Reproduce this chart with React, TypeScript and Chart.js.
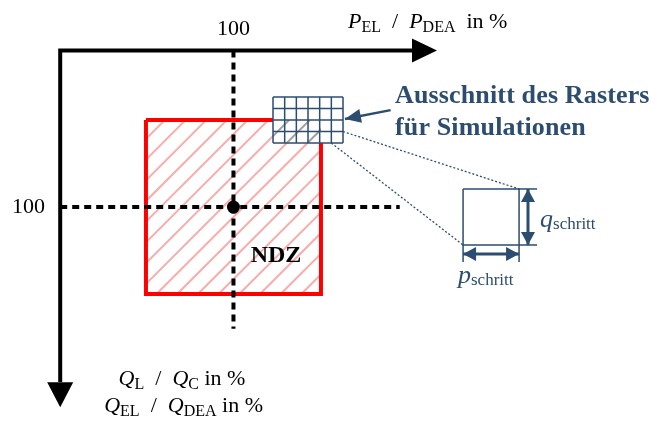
import React, { useEffect, useRef } from "react";
import { Chart, registerables } from "chart.js";
Chart.register(...registerables);

// ---- value ranges (P and Q in %) ----
const xRange = [-33.4, 340.3];
const yRange = [-19, 224.1];

// NDZ region and operating point
const ndzP = [50, 150];
const ndzQ = [50, 150];
const centre = [100, 100];

// axes: origin, shaft end, arrow tip
const axisOrigin = [1, 10];
const axisPEnd = [202, 216.3];
const axisQEnd = [200.5, 215];

// dashed reference lines at 100 %
const dashP = [1, 195];
const dashQ = [10, 170];

// simulation raster excerpt
const gridP = [122.6, 162.6];
const gridQ = [36.75, 63.2];
const gridCols = 6;
const gridRows = 4;

// enlarged raster cell
const cellP = [231.2, 263.2];
const cellQ = [89.6, 121.8];
const qDimP = [268.3, 273.5];
const pDimQ = [127, 131.6];

// pointer arrow from caption to raster
const pointerFrom = [189.8, 44.3];
const pointerTo = [163.7, 49.4];

// tick labels
const tickLabels = ["100", "100"];
const captionLines = ["Ausschnitt des Rasters", "für Simulationen"];
const ndzLabel = "NDZ";

const BLUE = "#2c4d6f";
const RED = "#ff0000";
const FONT = '"Liberation Serif", "Times New Roman", serif';
const SEP = "\u2002/\u2002";

type Run = { t: string; size: number; italic?: boolean; bold?: boolean; dy?: number };

function fontOf(r: Run) {
  return `${r.italic ? "italic " : ""}${r.bold ? "bold " : ""}${r.size}px ${FONT}`;
}

function drawRuns(ctx: CanvasRenderingContext2D, runs: Run[], x: number, y: number, align: "left" | "center" | "right", color: string, spacing = 0) {
  (ctx as any).letterSpacing = `${spacing}px`;
  let w = 0;
  for (const r of runs) {
    ctx.font = fontOf(r);
    w += ctx.measureText(r.t).width;
  }
  let cx = align === "center" ? x - w / 2 : align === "right" ? x - w : x;
  ctx.fillStyle = color;
  ctx.textAlign = "left";
  ctx.textBaseline = "alphabetic";
  for (const r of runs) {
    ctx.font = fontOf(r);
    ctx.fillText(r.t, cx, y + (r.dy || 0));
    cx += ctx.measureText(r.t).width;
  }
  (ctx as any).letterSpacing = "0px";
}

function head(ctx: CanvasRenderingContext2D, tx: number, ty: number, fx: number, fy: number, len: number, half: number, color: string) {
  const a = Math.atan2(ty - fy, tx - fx);
  const bx = tx - len * Math.cos(a);
  const by = ty - len * Math.sin(a);
  ctx.fillStyle = color;
  ctx.beginPath();
  ctx.moveTo(tx, ty);
  ctx.lineTo(bx + half * Math.sin(a), by - half * Math.cos(a));
  ctx.lineTo(bx - half * Math.sin(a), by + half * Math.cos(a));
  ctx.closePath();
  ctx.fill();
}

function hatch(ctx: CanvasRenderingContext2D, l: number, t: number, r: number, b: number, color: string) {
  ctx.save();
  ctx.beginPath();
  ctx.rect(l, t, r - l, b - t);
  ctx.clip();
  ctx.strokeStyle = color;
  ctx.lineWidth = 2;
  const step = 20.7;
  const phase = 347;
  let c0 = phase - Math.ceil((phase - (l + t)) / step) * step;
  for (let c = c0; c <= r + b + step; c += step) {
    ctx.beginPath();
    ctx.moveTo(c - b, b);
    ctx.lineTo(c - t, t);
    ctx.stroke();
  }
  ctx.restore();
}

function seg(label: string, pts: number[][], color: string, width: number, order: number, dash: number[] = [], extra: any = {}) {
  return {
    label,
    data: pts.map((p) => ({ x: p[0], y: p[1] })),
    showLine: true,
    borderColor: color,
    borderWidth: width,
    borderDash: dash,
    pointRadius: 0,
    tension: 0,
    order,
    ...extra,
  };
}

export default function App() {
  const ref = useRef<HTMLCanvasElement | null>(null);

  useEffect(() => {
    if (!ref.current) return;
    const cw = (gridP[1] - gridP[0]) / gridCols;
    const ch = (gridQ[1] - gridQ[0]) / gridRows;

    const datasets: any[] = [];
    datasets.push(
      seg("ndz", [[ndzP[0], ndzQ[0]], [ndzP[1], ndzQ[0]], [ndzP[1], ndzQ[1]], [ndzP[0], ndzQ[1]], [ndzP[0], ndzQ[0]]], RED, 4, 40, [], { borderJoinStyle: "miter" })
    );
    for (let i = 0; i <= gridCols; i++) {
      const p = gridP[0] + i * cw;
      datasets.push(seg("grid", [[p, gridQ[0]], [p, gridQ[1]]], BLUE, 1.5, 30));
    }
    for (let j = 0; j <= gridRows; j++) {
      const q = gridQ[0] + j * ch;
      datasets.push(seg("grid", [[gridP[0], q], [gridP[1], q]], BLUE, 1.5, 30));
    }
    datasets.push(seg("dashV", [[centre[0], dashQ[0]], [centre[0], dashQ[1]]], "#000", 4, 20, [7, 5]));
    datasets.push(seg("dashH", [[dashP[0], centre[1]], [dashP[1], centre[1]]], "#000", 4, 20, [7, 5]));
    datasets.push({
      label: "centre",
      data: [{ x: centre[0], y: centre[1] }],
      pointRadius: 6.5,
      pointBackgroundColor: "#000",
      pointBorderWidth: 0,
      showLine: false,
      order: 15,
    });
    datasets.push(
      seg("axes", [[axisPEnd[0], axisOrigin[1]], [axisOrigin[0], axisOrigin[1]], [axisOrigin[0], axisQEnd[0]]], "#000", 4, 10, [], { borderJoinStyle: "miter", borderCapStyle: "butt" })
    );
    datasets.push(seg("conn", [[gridP[1], gridQ[1] - ch], [cellP[1], cellQ[0]]], BLUE, 1.3, 8, [2, 2]));
    datasets.push(seg("conn", [[gridP[1] - cw, gridQ[1]], [cellP[0], cellQ[1]]], BLUE, 1.3, 8, [2, 2]));
    datasets.push(
      seg("cell", [[cellP[0], cellQ[0]], [cellP[1], cellQ[0]], [cellP[1], cellQ[1]], [cellP[0], cellQ[1]], [cellP[0], cellQ[0]]], BLUE, 1.5, 6)
    );
    datasets.push(seg("ext", [[cellP[1], cellQ[0]], [qDimP[1], cellQ[0]]], BLUE, 1.5, 5));
    datasets.push(seg("ext", [[cellP[1], cellQ[1]], [qDimP[1], cellQ[1]]], BLUE, 1.5, 5));
    datasets.push(seg("ext", [[cellP[0], cellQ[1]], [cellP[0], pDimQ[1]]], BLUE, 1.5, 5));
    datasets.push(seg("ext", [[cellP[1], cellQ[1]], [cellP[1], pDimQ[1]]], BLUE, 1.5, 5));
    datasets.push(seg("dim", [[qDimP[0], cellQ[0]], [qDimP[0], cellQ[1]]], BLUE, 3, 4));
    datasets.push(seg("dim", [[cellP[0], pDimQ[0]], [cellP[1], pDimQ[0]]], BLUE, 3, 4));
    datasets.push(seg("pointer", [pointerFrom, pointerTo], BLUE, 2.5, 4));

    const plugin = {
      id: "diagram",
      beforeDatasetsDraw(chart: any) {
        const { ctx, scales } = chart;
        const X = (v: number) => scales.x.getPixelForValue(v);
        const Y = (v: number) => scales.y.getPixelForValue(v);
        hatch(ctx, X(ndzP[0]), Y(ndzQ[0]), X(ndzP[1]), Y(ndzQ[1]), "rgba(245, 90, 90, 0.5)");
      },
      afterDatasetDraw(chart: any, args: any) {
        const ds = chart.data.datasets[args.index];
        if (ds.label !== "ndz") return;
        const { ctx, scales } = chart;
        const X = (v: number) => scales.x.getPixelForValue(v);
        const Y = (v: number) => scales.y.getPixelForValue(v);
        ctx.save();
        ctx.fillStyle = "#fff";
        ctx.fillRect(X(gridP[0]), Y(gridQ[0]), X(gridP[1]) - X(gridP[0]), Y(gridQ[1]) - Y(gridQ[0]));
        ctx.restore();
        hatch(ctx, X(gridP[0]), Math.max(Y(gridQ[0]), Y(ndzQ[0])), Math.min(X(gridP[1]), X(ndzP[1])), Y(gridQ[1]), "rgba(120,120,120,0.7)");
      },
      afterDatasetsDraw(chart: any) {
        const { ctx, scales } = chart;
        const X = (v: number) => scales.x.getPixelForValue(v);
        const Y = (v: number) => scales.y.getPixelForValue(v);
        ctx.save();
        head(ctx, X(axisPEnd[1]), Y(axisOrigin[1]), X(axisOrigin[0]), Y(axisOrigin[1]), 25, 12, "#000");
        head(ctx, X(axisOrigin[0]), Y(axisQEnd[1]), X(axisOrigin[0]), Y(axisOrigin[1]), 25, 13, "#000");
        head(ctx, X(qDimP[0]), Y(cellQ[0]), X(qDimP[0]), Y(cellQ[1]), 13, 7, BLUE);
        head(ctx, X(qDimP[0]), Y(cellQ[1]), X(qDimP[0]), Y(cellQ[0]), 13, 7, BLUE);
        head(ctx, X(cellP[0]), Y(pDimQ[0]), X(cellP[1]), Y(pDimQ[0]), 13, 7, BLUE);
        head(ctx, X(cellP[1]), Y(pDimQ[0]), X(cellP[0]), Y(pDimQ[0]), 13, 7, BLUE);
        head(ctx, X(pointerTo[0]), Y(pointerTo[1]), X(pointerFrom[0]), Y(pointerFrom[1]), 16, 7, BLUE);

        drawRuns(ctx, [{ t: tickLabels[0], size: 22 }], X(100), Y(1.1), "center", "#000");
        drawRuns(ctx, [{ t: tickLabels[1], size: 22 }], X(-7.7), Y(103.4), "right", "#000");
        drawRuns(
          ctx,
          [
            { t: "P", size: 22, italic: true },
            { t: "EL", size: 16, dy: 4 },
            { t: SEP, size: 22 },
            { t: "P", size: 22, italic: true },
            { t: "DEA", size: 16, dy: 4 },
            { t: "\u2002in %", size: 22 },
          ],
          X(165.5),
          Y(-2.9),
          "left",
          "#000"
        );
        drawRuns(
          ctx,
          [
            { t: "Q", size: 22, italic: true },
            { t: "L", size: 16, dy: 4 },
            { t: SEP, size: 22 },
            { t: "Q", size: 22, italic: true },
            { t: "C", size: 16, dy: 4 },
            { t: " in %", size: 22 },
          ],
          X(70.6),
          Y(202.3),
          "center",
          "#000"
        );
        drawRuns(
          ctx,
          [
            { t: "Q", size: 22, italic: true },
            { t: "EL", size: 16, dy: 4 },
            { t: SEP, size: 22 },
            { t: "Q", size: 22, italic: true },
            { t: "DEA", size: 16, dy: 4 },
            { t: " in %", size: 22 },
          ],
          X(71.5),
          Y(217.8),
          "center",
          "#000"
        );
        drawRuns(ctx, [{ t: ndzLabel, size: 24, bold: true }], X(124.3), Y(131.6), "center", "#000");
        drawRuns(ctx, [{ t: captionLines[0], size: 26, bold: true }], X(192.3), Y(40.2), "left", BLUE, 0.15);
        drawRuns(ctx, [{ t: captionLines[1], size: 26, bold: true }], X(192.3), Y(58.6), "left", BLUE, 0.15);
        drawRuns(ctx, [{ t: "q", size: 26, italic: true }, { t: "schritt", size: 17, dy: 2 }], X(275.2), Y(111.5), "left", BLUE);
        drawRuns(ctx, [{ t: "p", size: 26, italic: true }, { t: "schritt", size: 17, dy: 2 }], X(228.3), Y(143.6), "left", BLUE);
        ctx.restore();
      },
    };

    const chart = new Chart(ref.current, {
      type: "scatter",
      data: { datasets },
      options: {
        animation: false,
        responsive: false,
        devicePixelRatio: 1,
        layout: { padding: 0, autoPadding: false },
        plugins: { legend: { display: false }, tooltip: { enabled: false } },
        events: [],
        scales: {
          x: { type: "linear", display: false, min: xRange[0], max: xRange[1] },
          y: { type: "linear", display: false, min: yRange[0], max: yRange[1], reverse: true },
        },
      },
      plugins: [plugin],
    } as any);
    return () => chart.destroy();
  }, []);

  return (
    <div style={{ position: "fixed", left: 0, top: 0, width: 654, height: 423, background: "#fff" }}>
      <canvas ref={ref} width={654} height={423} style={{ display: "block" }} />
    </div>
  );
}
